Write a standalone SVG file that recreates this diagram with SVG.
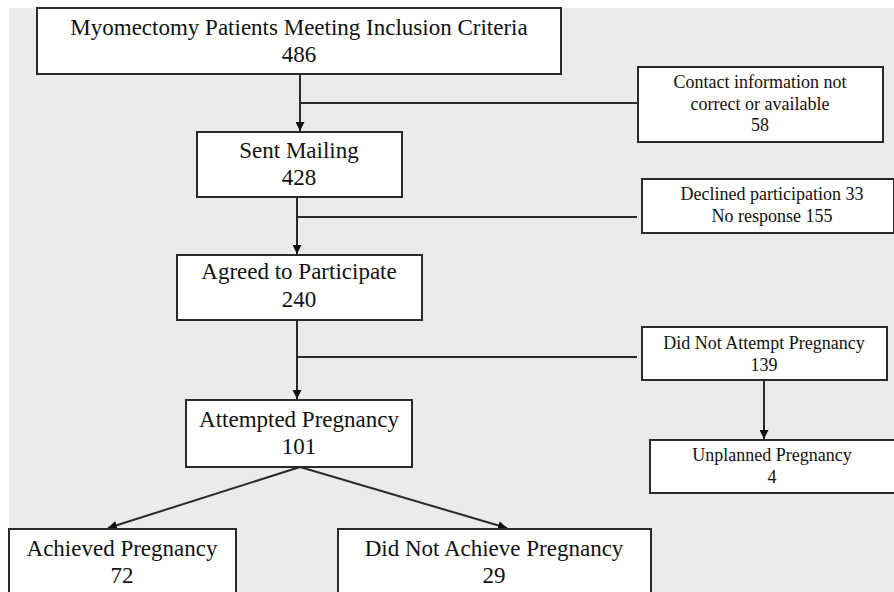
<svg xmlns="http://www.w3.org/2000/svg" width="894" height="592" viewBox="0 0 894 592">
<defs>
<style>
.box{fill:#fff;stroke:#2a2a2a;stroke-width:2}
.big{font-family:"Liberation Serif","Times New Roman",serif;font-size:23px;fill:#111;text-anchor:middle}
.sm{font-family:"Liberation Serif","Times New Roman",serif;font-size:18px;fill:#111;text-anchor:middle}
.ln{fill:none;stroke:#2a2a2a;stroke-width:2}
</style>
<marker id="ah" viewBox="0 0 10 10" refX="10" refY="5" markerWidth="4.5" markerHeight="4.5" orient="auto" markerUnits="strokeWidth">
<path d="M0,0 L10,5 L0,10 z" fill="#111"/>
</marker>
</defs>
<rect x="0" y="0" width="894" height="592" fill="#fff"/>
<rect x="9" y="8" width="885" height="584" fill="#ebebeb"/>
<g id="connectors">
<line class="ln" x1="300" y1="74" x2="300" y2="131" marker-end="url(#ah)"/>
<line class="ln" x1="300" y1="103" x2="638" y2="103"/>
<line class="ln" x1="297" y1="197" x2="297" y2="254" marker-end="url(#ah)"/>
<line class="ln" x1="297" y1="217" x2="637" y2="217"/>
<line class="ln" x1="297" y1="320" x2="297" y2="399" marker-end="url(#ah)"/>
<line class="ln" x1="297" y1="357" x2="637" y2="357"/>
<line class="ln" x1="764" y1="380" x2="764" y2="439" marker-end="url(#ah)"/>
<line class="ln" x1="300" y1="467" x2="108" y2="528" marker-end="url(#ah)"/>
<line class="ln" x1="300" y1="467" x2="507" y2="528" marker-end="url(#ah)"/>
</g>
<g id="n1">
<rect class="box" x="37" y="8" width="524" height="66"/>
<text class="big" x="299" y="35">Myomectomy Patients Meeting Inclusion Criteria</text>
<text class="big" x="299" y="62">486</text>
</g>
<g id="n2">
<rect class="box" x="638" y="67" width="245" height="75"/>
<text class="sm" x="760" y="88">Contact information not</text>
<text class="sm" x="760" y="110">correct or available</text>
<text class="sm" x="760" y="131">58</text>
</g>
<g id="n3">
<rect class="box" x="197" y="132" width="205" height="65"/>
<text class="big" x="299" y="158">Sent Mailing</text>
<text class="big" x="299" y="185">428</text>
</g>
<g id="n4">
<rect class="box" x="642" y="179" width="252" height="54"/>
<text class="sm" x="772" y="200">Declined participation 33</text>
<text class="sm" x="772" y="222">No response 155</text>
</g>
<g id="n5">
<rect class="box" x="177" y="255" width="245" height="65"/>
<text class="big" x="299" y="279">Agreed to Participate</text>
<text class="big" x="299" y="307">240</text>
</g>
<g id="n6">
<rect class="box" x="642" y="327" width="245" height="53"/>
<text class="sm" x="764" y="349">Did Not Attempt Pregnancy</text>
<text class="sm" x="764" y="371">139</text>
</g>
<g id="n7">
<rect class="box" x="186" y="400" width="226" height="67"/>
<text class="big" x="299" y="427">Attempted Pregnancy</text>
<text class="big" x="299" y="454">101</text>
</g>
<g id="n8">
<rect class="box" x="650" y="440" width="246" height="53"/>
<text class="sm" x="772" y="461">Unplanned Pregnancy</text>
<text class="sm" x="772" y="483">4</text>
</g>
<g id="n9">
<rect class="box" x="9" y="529" width="227" height="70"/>
<text class="big" x="122" y="556">Achieved Pregnancy</text>
<text class="big" x="122" y="583">72</text>
</g>
<g id="n10">
<rect class="box" x="338" y="529" width="313" height="70"/>
<text class="big" x="494" y="556">Did Not Achieve Pregnancy</text>
<text class="big" x="494" y="583">29</text>
</g>
</svg>
